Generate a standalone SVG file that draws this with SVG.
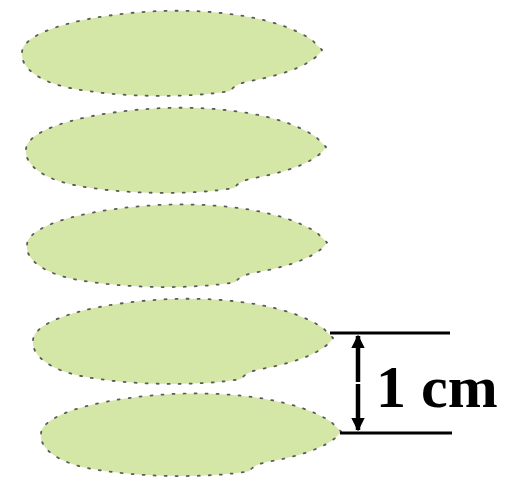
<svg xmlns="http://www.w3.org/2000/svg" width="505" height="481" viewBox="0 0 505 481">
<style>
.blob{fill:#d5e7a7;stroke:#5a5a5a;stroke-width:1.8;stroke-dasharray:2 9;stroke-linecap:round}
.dim{stroke:#000;stroke-width:3;fill:none}
.lbl{font-family:"Liberation Serif",serif;font-weight:bold;font-size:60px;fill:#000}
</style>
<defs>
<path id="b" d="M22,52 C24,30 90,14 160,11 C220,9 280,18 312,40 L322,50 C315,62 290,74 250,81 C240,83 234,86 230,91 C190,98 120,98 70,88 C40,82 20,68 22,52 Z"/>
<marker id="ah" viewBox="0 0 10 10" refX="9" refY="5" markerWidth="3" markerHeight="4" orient="auto-start-reverse" markerUnits="strokeWidth"><path d="M0,0 L10,5 L0,10 Z" fill="#000"/></marker>
</defs>
<g id="layer1"><use href="#b" class="blob"/></g>
<g id="layer2"><use href="#b" class="blob" transform="translate(4,97)"/></g>
<g id="layer3"><use href="#b" class="blob" transform="translate(5,194) scale(1,0.97)"/></g>
<g id="layer4"><use href="#b" class="blob" transform="translate(11,288)"/></g>
<g id="layer5"><use href="#b" class="blob" transform="translate(19,383) scale(1,0.97)"/></g>
<g id="connectors">
<line class="dim" x1="330" y1="333" x2="450" y2="333"/>
<line class="dim" x1="340" y1="433" x2="452" y2="433"/>
<line x1="358" y1="382" x2="358" y2="336" stroke="#000" stroke-width="4.5" marker-end="url(#ah)"/>
<line x1="358" y1="384" x2="358" y2="430" stroke="#000" stroke-width="4.5" marker-end="url(#ah)"/>
</g>
<g id="label"><text class="lbl" x="376" y="407">1 cm</text></g>
</svg>
